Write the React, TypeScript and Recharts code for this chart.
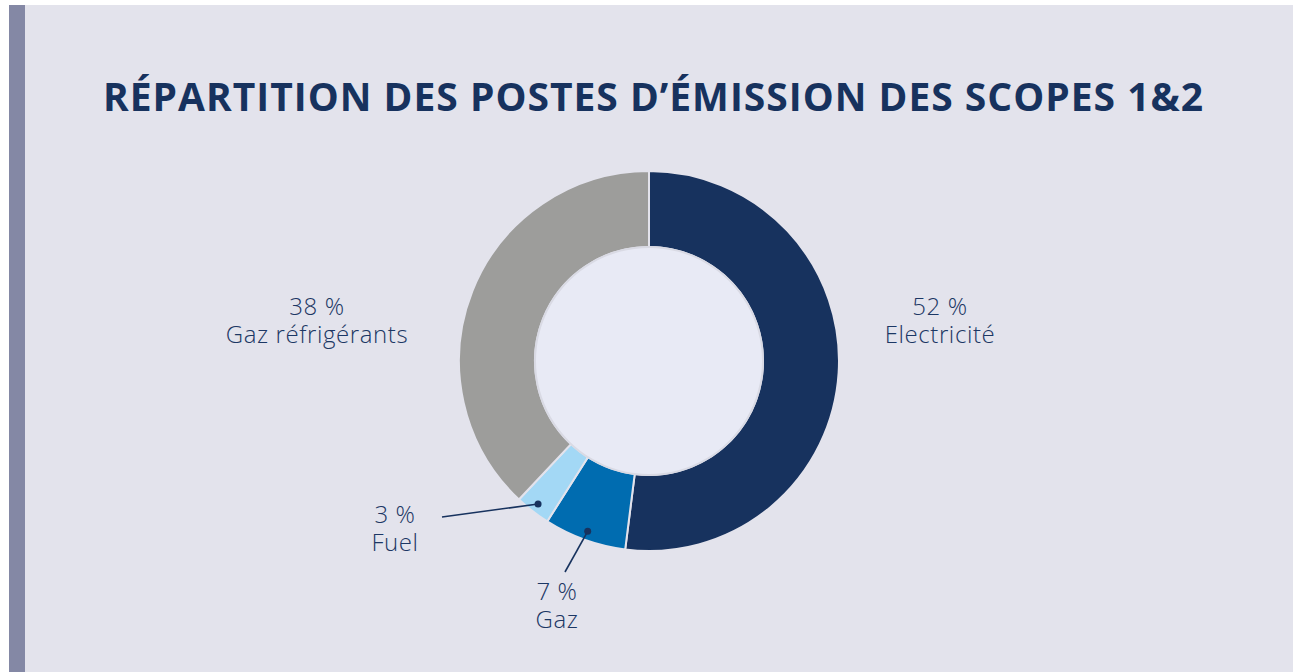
import { PieChart, Pie, Cell } from "recharts";

const postes = ["Electricité", "Gaz", "Fuel", "Gaz réfrigérants"];
const parts = [52, 7, 3, 38];
const couleurs = ["#17325e", "#006cb0", "#a3d8f5", "#9d9d9b"];

// where each label sits, relative to the centre of the ring
const labelPos = [
  { dx: 291, dy: -46, line: null },
  { dx: -92, dy: 239, line: { dx: -84, dy: 211 } },
  { dx: -254, dy: 162, line: { dx: -207, dy: 156 } },
  { dx: -332, dy: -46, line: null },
];

const data = postes.map((name, i) => ({ name, value: parts[i] }));
const centre = [{ name: "centre", value: 1 }];

const RADIAN = Math.PI / 180;
const FONT = "'Open Sans', 'Noto Sans', sans-serif";
const TEXT = "#1c3764";

function renderLabel(props: any) {
  const { cx, cy, midAngle, outerRadius, index, value, name } = props;
  const pos = labelPos[index];
  const x = cx + pos.dx;
  const y = cy + pos.dy;
  const r = outerRadius - 9;
  const dotX = cx + r * Math.cos(-midAngle * RADIAN);
  const dotY = cy + r * Math.sin(-midAngle * RADIAN);
  const txt = { fontFamily: FONT, fontSize: 24, fontWeight: 300, letterSpacing: 0.6 };
  return (
    <g key={`lbl-${index}`}>
      {pos.line && (
        <>
          <line
            x1={dotX} y1={dotY}
            x2={cx + pos.line.dx} y2={cy + pos.line.dy}
            stroke="#17325e" strokeWidth={1.6}
          />
          <circle cx={dotX} cy={dotY} r={3.5} fill="#17325e" />
        </>
      )}
      <text x={x} y={y} textAnchor="middle" fill={TEXT} style={txt}>
        {value} %
      </text>
      <text x={x} y={y + 28} textAnchor="middle" fill={TEXT} style={txt}>
        {name}
      </text>
    </g>
  );
}

export default function App() {
  return (
    <div style={{ position: "fixed", left: 0, top: 0, width: 1293, height: 672, background: "#ffffff", overflow: "hidden" }}>
      <div style={{ position: "absolute", left: 9, top: 5, width: 16, height: 667, background: "#8488a5" }} />
      <div style={{ position: "absolute", left: 25, top: 5, width: 1268, height: 667, background: "#e3e3ec" }}>
        <svg width={1268} height={120} style={{ position: "absolute", left: 0, top: 0 }}>
          <text x={78} y={106} textLength={1100} fill="#17325e"
            style={{ fontFamily: FONT, fontSize: 39, fontWeight: 700 }}>
            RÉPARTITION DES POSTES D’ÉMISSION DES SCOPES 1&amp;2
          </text>
        </svg>
        <div style={{ position: "absolute", left: 0, top: 0 }}>
          <PieChart width={1268} height={667} margin={{ top: 0, right: 0, bottom: 0, left: 0 }}>
            <Pie
              data={data}
              dataKey="value"
              nameKey="name"
              cx={624}
              cy={356}
              startAngle={90}
              endAngle={-270}
              innerRadius={114}
              outerRadius={190}
              stroke="#e3e3ec"
              strokeWidth={2}
              label={renderLabel}
              labelLine={false}
              isAnimationActive={false}
            >
              {data.map((d, i) => (
                <Cell key={d.name} fill={couleurs[i]} />
              ))}
            </Pie>
            {/* centre disc: a thin light border, then the pale fill */}
            <Pie
              data={centre}
              dataKey="value"
              cx={624}
              cy={356}
              innerRadius={0}
              outerRadius={115}
              fill="#d9dae4"
              stroke="none"
              isAnimationActive={false}
            />
            <Pie
              data={centre}
              dataKey="value"
              cx={624}
              cy={356}
              innerRadius={0}
              outerRadius={113}
              fill="#e8eaf5"
              stroke="none"
              isAnimationActive={false}
            />
          </PieChart>
        </div>
      </div>
    </div>
  );
}
